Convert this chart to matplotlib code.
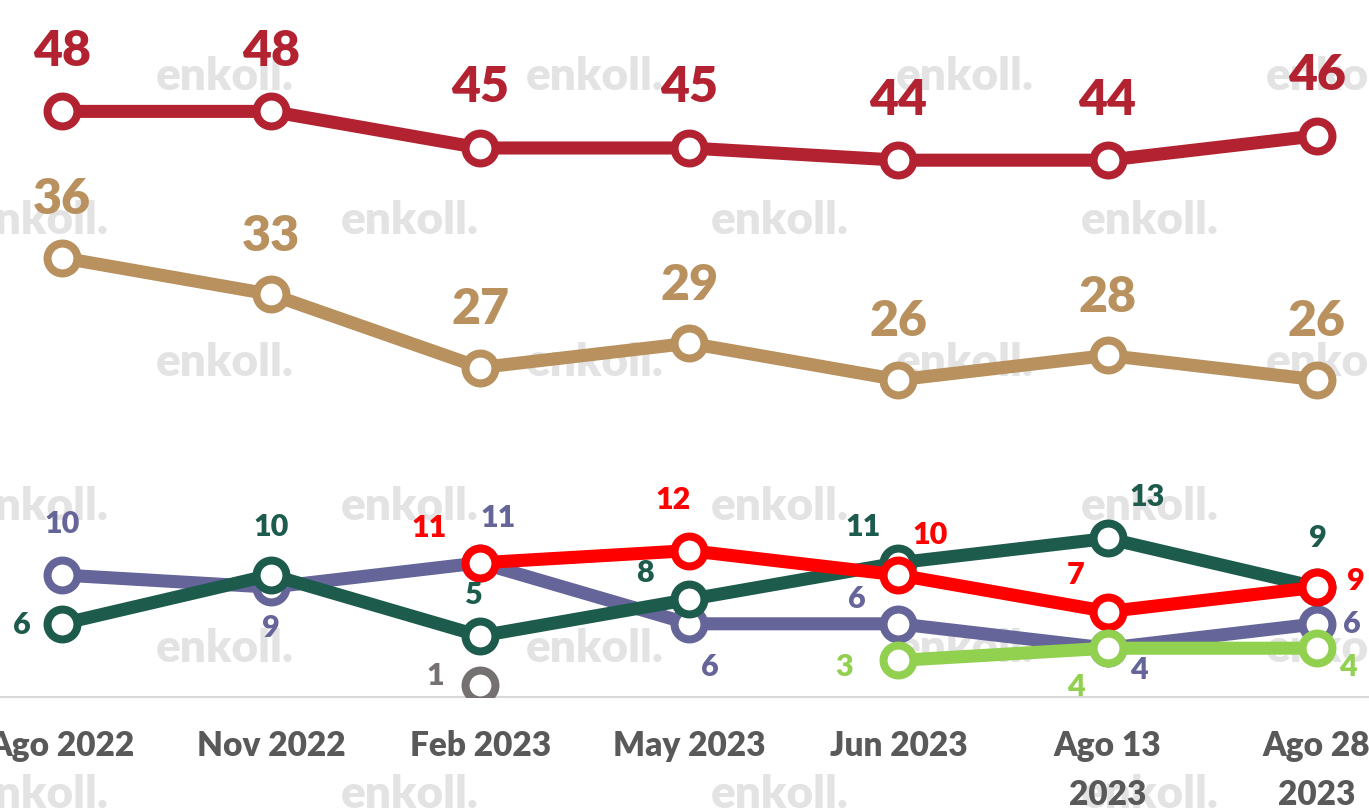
import numpy as np
import matplotlib
matplotlib.use("Agg")
import matplotlib.pyplot as plt

nan = np.nan

periods = ["Ago 2022", "Nov 2022", "Feb 2023", "May 2023", "Jun 2023", "Ago 13\n2023", "Ago 28\n2023"]

s_top = [48, 48, 45, 45, 44, 44, 46]
s_second = [36, 33, 27, 29, 26, 28, 26]
s_purple = [10, 9, 11, 6, 6, 4, 6]
s_green = [6, 10, 5, 8, 11, 13, 9]
s_red = [nan, nan, 11, 12, 10, 7, 9]
s_lime = [nan, nan, nan, nan, 3, 4, 4]
s_gray = [nan, nan, 1, nan, nan, nan, nan]

plt.rcParams['font.family'] = ['Lato', 'DejaVu Sans']

fig = plt.figure(figsize=(13.69, 8.11), dpi=100)
ax = fig.add_axes([0, 114 / 811, 1, 697 / 811])
x = np.arange(len(periods))

# label offsets in pixels (dx, dy), picked by eye
def px(d):
    return (d[0] * 0.72, d[1] * 0.72)

series = [
    # values, color, label size, offsets
    (s_purple, "#65659A", 22, [(0, 51), (0, -41), (18, 45), (21, -43), (-42, 25), (31, -22), (35, 0)]),
    (s_green, "#1D5C4D", 22, [(-40, -1), (0, 48), (-6, 41), (-44, 26), (-35, 36), (40, 41), (1, 49)]),
    (s_red, "#FF0000", 22, [None, None, (-51, 35), (-16, 51), (32, 40), (-32, 37), (39, 6)]),
    (s_lime, "#92D050", 22, [None, None, None, None, (-54, -7), (-32, -39), (31, -19)]),
    (s_gray, "#767171", 22, [None, None, (-45, 9), None, None, None, None]),
    (s_second, "#B8915E", 36, [(0, 58)] * 7),
    (s_top, "#B22230", 36, [(0, 60)] * 7),
]

for z, (vals, col, fs, offs) in enumerate(series):
    ax.plot(x, vals, color=col, lw=9.4, marker="o", ms=21.5, mew=5.8,
            mfc="white", mec=col, zorder=3 + z, solid_capstyle="round")
    for i, v in enumerate(vals):
        if np.isnan(v):
            continue
        ax.annotate(f"{v:g}", (x[i], v), xytext=px(offs[i]), textcoords="offset points",
                    ha="center", va="center", fontsize=fs, fontweight="heavy",
                    color=col, zorder=20)

# watermark, behind everything
for r, yy in enumerate([77, 220, 362, 507, 648, 795]):
    shift = 0 if r % 2 == 0 else -185
    for cx in [225, 595, 965, 1335, 1705]:
        ax.text((cx + shift) / 1369, 1 - yy / 811, "enkoll.", fontsize=33,
                fontweight="heavy", color="#E3E3E3", ha="center", va="center",
                transform=fig.transFigure, zorder=1, clip_on=False)

ax.set_xlim(-0.296, 6.25)
ax.set_ylim(0, 57.13)
ax.set_facecolor("none")
for sp in ["top", "left", "right"]:
    ax.spines[sp].set_visible(False)
ax.spines["bottom"].set_color("#D9D9D9")
ax.spines["bottom"].set_linewidth(1.5)
ax.set_yticks([])
ax.set_xticks(x)
ax.set_xticklabels(periods, fontsize=24, fontweight="heavy", color="#595959", linespacing=1.65)
ax.tick_params(axis="x", length=0, pad=24)

fig.savefig("out.png", dpi=100)
